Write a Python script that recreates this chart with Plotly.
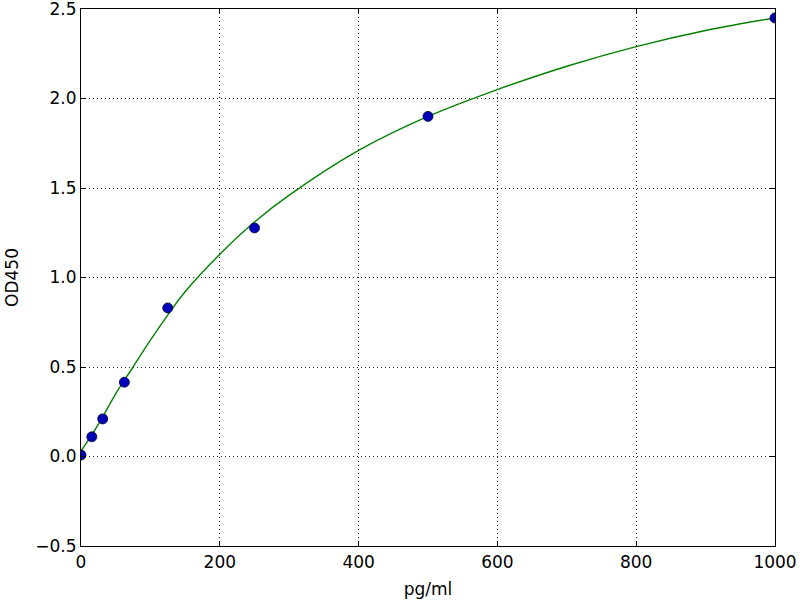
import plotly.graph_objects as go

# Standard points
conc = [0, 15.6, 31.25, 62.5, 125, 250, 500, 1000]
od = [0.008, 0.11, 0.21, 0.415, 0.83, 1.277, 1.90, 2.45]

# Fitted curve
curve_x = [0, 25, 50, 75, 100, 125, 150, 200, 250, 300, 400, 500, 600, 700, 800, 900, 1000]
curve_y = [0.03, 0.18, 0.35, 0.50, 0.65, 0.79, 0.92, 1.13, 1.31, 1.46, 1.71, 1.90, 2.05, 2.18, 2.29, 2.38, 2.45]

x_ticks = [0, 200, 400, 600, 800, 1000]
y_ticks = [-0.5, 0.0, 0.5, 1.0, 1.5, 2.0, 2.5]

fig = go.Figure()
fig.add_trace(go.Scatter(x=curve_x, y=curve_y, mode="lines",
                         line=dict(color="#008000", width=1.4, shape="spline", smoothing=1.0),
                         showlegend=False, hoverinfo="skip"))
fig.add_trace(go.Scatter(x=conc, y=od, mode="markers",
                         marker=dict(color="#0000b8", size=10, line=dict(color="#000033", width=0.8)),
                         showlegend=False))

axis_common = dict(showline=True, linecolor="black", linewidth=1.2, mirror="ticks",
                   ticks="inside", ticklen=5, tickcolor="black", tickwidth=1,
                   showgrid=True, gridcolor="#222222", gridwidth=1, griddash="1px,3px",
                   zeroline=False, automargin=False, ticklabeloverflow="allow",
                   tickfont=dict(family="DejaVu Sans", size=17, color="black"))

fig.update_xaxes(range=[0, 1000], tickvals=x_ticks, **axis_common,
                 title=dict(text="pg/ml", font=dict(family="DejaVu Sans", size=17, color="black"), standoff=12))
fig.update_yaxes(range=[-0.5, 2.5], tickvals=y_ticks, tickformat=".1f", **axis_common,
                 title=dict(text="OD450", font=dict(family="DejaVu Sans", size=17, color="black"), standoff=12))

fig.update_layout(width=800, height=600, plot_bgcolor="white", paper_bgcolor="white",
                  margin=dict(l=81, r=25, t=9, b=54))

fig.write_html("out.html", config={"displayModeBar": False},
               post_script="document.body.style.margin='0px';")
